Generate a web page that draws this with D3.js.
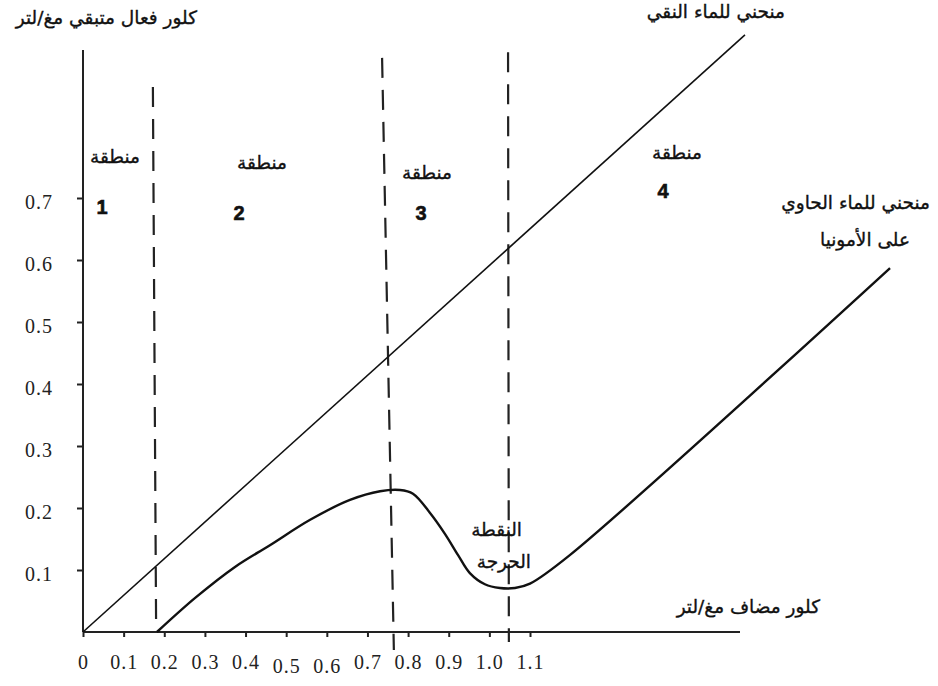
<!DOCTYPE html>
<html>
<head>
<meta charset="utf-8">
<script src="https://cdn.jsdelivr.net/npm/d3@7"></script>
<style>
  body { margin: 0; background: #fff; }
  svg { display: block; }
  .ar { font-family: "DejaVu Sans", sans-serif; font-size: 18.5px; fill: #111; stroke: #111; stroke-width: 0.35px; }
  .num { font-family: "Liberation Sans", Arial, sans-serif; font-weight: bold; font-size: 20px; fill: #111; stroke: #111; stroke-width: 0.6px; }
  .tick text { font-family: "Liberation Serif", "Times New Roman", serif; font-size: 20px; fill: #222; letter-spacing: 1px; }
</style>
</head>
<body>
<svg class="svg" width="938" height="686"></svg>
<script>
// tick values on both axes
const xTicks = [0, 0.1, 0.2, 0.3, 0.4, 0.5, 0.6, 0.7, 0.8, 0.9, 1.0, 1.1];
const yTicks = [0.1, 0.2, 0.3, 0.4, 0.5, 0.6, 0.7];

// pure water: residual chlorine equals added chlorine
const pureX = [0, 1.629];
const pureY = [0, 0.963];

// water containing ammonia
const ammoniaX = [0.182, 0.276, 0.374, 0.460, 0.559, 0.657, 0.731, 0.780, 0.812, 0.854, 0.891, 0.923, 0.952, 0.989, 1.026, 1.063, 1.100, 1.198, 1.986];
const ammoniaY = [0, 0.055, 0.105, 0.140, 0.181, 0.213, 0.227, 0.229, 0.223, 0.192, 0.158, 0.124, 0.095, 0.077, 0.071, 0.071, 0.078, 0.124, 0.587];

// dashed zone boundaries: [x top, y top, x bottom, y bottom]
const zoneLines = [
  [0.172, 0.879, 0.180, 0],
  [0.736, 0.926, 0.765, -0.029],
  [1.046, 0.935, 1.048, -0.016]
];

const svg = d3.select(".svg");

const x = d3.scaleLinear().domain([0, 1.1]).range([83, 530]);
const y = d3.scaleLinear().domain([0, 0.7]).range([632, 198]);

// axes
svg.append("line")
  .attr("x1", 83).attr("x2", 83)
  .attr("y1", 50).attr("y2", y(0))
  .attr("stroke", "#222").attr("stroke-width", 2);

svg.append("line")
  .attr("x1", 83).attr("x2", 740)
  .attr("y1", y(0)).attr("y2", y(0))
  .attr("stroke", "#222").attr("stroke-width", 1.8);

const yAxis = svg.append("g")
  .attr("transform", "translate(83,0)")
  .call(d3.axisLeft(y).tickValues(yTicks).tickSize(6).tickPadding(24).tickFormat(d3.format(".1f")));
yAxis.select(".domain").remove();
yAxis.selectAll(".tick line").attr("stroke", "#222").attr("stroke-width", 2);
yAxis.selectAll(".tick text").attr("dy", "0.5em");

const xAxis = svg.append("g")
  .attr("transform", `translate(0,${y(0)})`)
  .call(d3.axisBottom(x).tickValues(xTicks).tickSize(5).tickPadding(18)
    .tickFormat(d => d === 0 ? "0" : d3.format(".1f")(d)));
xAxis.select(".domain").remove();
xAxis.selectAll(".tick line").attr("stroke", "#222").attr("stroke-width", 2);
xAxis.selectAll(".tick text")
  .attr("dy", d => (d === 0.5 || d === 0.6) ? "0.9em" : "0.7em");

// dashed boundaries between zones
svg.selectAll(".zone")
  .data(zoneLines)
  .enter()
  .append("line")
  .attr("class", "zone")
  .attr("x1", d => x(d[0])).attr("y1", d => y(d[1]))
  .attr("x2", d => x(d[2])).attr("y2", d => y(d[3]))
  .attr("stroke", "#222")
  .attr("stroke-width", 2.2)
  .attr("stroke-dasharray", "20,12");

// curves
const line = d3.line().x(d => x(d[0])).y(d => y(d[1]));

svg.append("path")
  .datum(d3.zip(pureX, pureY))
  .attr("d", line)
  .attr("fill", "none")
  .attr("stroke", "#111")
  .attr("stroke-width", 1.6);

svg.append("path")
  .datum(d3.zip(ammoniaX, ammoniaY))
  .attr("d", line.curve(d3.curveCatmullRom.alpha(0.5)))
  .attr("fill", "none")
  .attr("stroke", "#111")
  .attr("stroke-width", 2.4);

// labels (right edge anchored, Arabic)
const arLabels = [
  ["كلور فعال متبقي  مغ/لتر", 197, 24],
  ["منحني للماء النقي", 785, 18],
  ["منطقة", 140, 163],
  ["منطقة", 287, 169],
  ["منطقة", 452, 179],
  ["منطقة", 702, 159],
  ["منحني للماء الحاوي", 930, 209],
  ["على الأمونيا", 910, 246],
  ["النقطة", 522, 536],
  ["الحرجة", 531, 568],
  ["كلور مضاف مغ/لتر", 820, 613]
];

svg.selectAll(".ar")
  .data(arLabels)
  .enter()
  .append("text")
  .attr("class", "ar")
  .attr("x", d => d[1])
  .attr("y", d => d[2])
  .attr("text-anchor", "end")
  .text(d => d[0]);

const zoneNums = [["1", 102, 214], ["2", 239, 220], ["3", 421, 220], ["4", 663, 198]];

svg.selectAll(".num")
  .data(zoneNums)
  .enter()
  .append("text")
  .attr("class", "num")
  .attr("x", d => d[1])
  .attr("y", d => d[2])
  .attr("text-anchor", "middle")
  .text(d => d[0]);
</script>
</body>
</html>
